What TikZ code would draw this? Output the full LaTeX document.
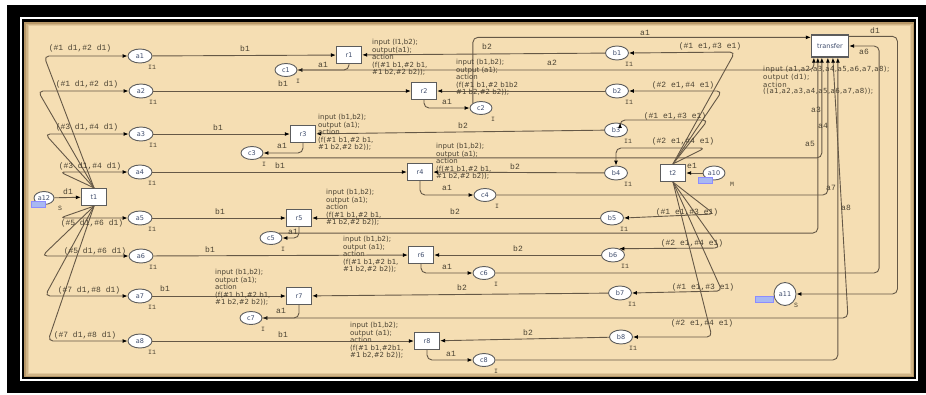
\documentclass[tikz,border=0pt]{standalone}
\usepackage{fontspec}
\setmainfont{DejaVu Sans}
\setmonofont{Liberation Mono}
\newfontfamily\wideface[LetterSpace=6]{DejaVu Sans}
\usetikzlibrary{shapes.geometric,arrows.meta,calc}
\definecolor{NetTan}{HTML}{F5DEB3}
\definecolor{NetEdge}{HTML}{B89868}
\definecolor{ArcLine}{HTML}{655846}
\definecolor{NodeLine}{HTML}{5C5C5C}
\definecolor{NodeText}{HTML}{3E4C6C}
\definecolor{InkText}{HTML}{4A4232}
\definecolor{TagBlue}{HTML}{A8B8F2}

\begin{document}
\begin{tikzpicture}[x=1pt,y=-1pt,
  every node/.style={font=\fontsize{6.5}{7}\selectfont},
  place/.style={ellipse,draw=NodeLine,line width=0.9pt,fill=white,minimum width=24pt,minimum height=14pt,inner sep=0pt,text=NodeText},
  trans/.style={rectangle,draw=NodeLine,line width=1.3pt,fill=white,minimum width=25pt,minimum height=17pt,inner sep=0pt,text=NodeText},
  arcline/.style={draw=ArcLine,line width=0.9pt,rounded corners=5pt,-{Latex[length=5pt,width=4pt,black]}},
  lbl/.style={font=\ttfamily\fontsize{8}{8}\selectfont,text=InkText,inner sep=0pt},
  tokens/.style={font=\ttfamily\fontsize{6.5}{7}\selectfont,text=InkText,inner sep=0pt},
  inscr/.style={align=left,anchor=north west,inner sep=0pt,font=\fontsize{7}{7.5}\selectfont,text=InkText},
  tag/.style={fill=TagBlue,draw=blue!45,line width=0.3pt,minimum width=14pt,minimum height=6pt,inner sep=0pt}]
  % frame and sheet
  \useasboundingbox (0,0) rectangle (926,394);
  \fill[white] (0,0) rectangle (926,394);
  \fill[black] (7,5) rectangle (926,393);
  \draw[white,line width=1.2pt] (21,18) rectangle (917,380);
  \fill[NetEdge] (24,22) rectangle (914,377);
  \fill[NetEdge!60!NetTan] (26,23.5) rectangle (912.5,375.5);
  \fill[NetEdge!30!NetTan] (27.5,25) rectangle (911,374);
  \fill[NetTan] (29,26) rectangle (910,372.5);

  % places
  \foreach \n/\x/\y in {a1/140/56,a2/141/91,a3/141/134,a4/140/172,a5/140/218,a6/141/256,a7/140/296,a8/140/341}{
    \node[place] (\n) at (\x,\y) {\n};
    \node[tokens] (\n-m) at (\x+12,\y+11) {I1};
  }
  \foreach \n/\x/\y in {b1/617/53,b2/617/91,b3/616/130,b4/616/173,b5/612/218,b6/613/255,b7/620/293,b8/621/337}{
    \node[place,minimum width=23pt] (\n) at (\x,\y) {\n};
    \node[tokens] (\n-m) at (\x+12,\y+11) {I1};
  }
  \foreach \n/\x/\y in {c1/286/70,c2/481/108,c3/252/153,c4/485/195,c5/271/238,c6/484/273,c7/251/318,c8/484/360}{
    \node[place,minimum width=22pt,minimum height=13pt] (\n) at (\x,\y) {\n};
    \node[tokens] (\n-m) at (\x+12,\y+11) {I};
  }
  \node[place,minimum width=20pt,minimum height=13pt] (a12) at (44,198) {a12};
  \node[tokens] (a12-m) at (60,208) {S};
  \node[place,minimum width=22pt] (a10) at (714,173) {a10};
  \node[tokens] (a10-m) at (732,184) {M};
  \node[place,minimum width=22pt,minimum height=23pt] (a11) at (785,294) {a11};
  \node[tokens] (a11-m) at (796,305) {S};
  \node[tag] (tag12) at (38,204) {};
  \node[tag] (tag10) at (705,180) {};
  \node[tag,minimum width=18pt] (tag11) at (764,299) {};

  % transitions
  \foreach \n/\x/\y in {r1/349/55,r2/424/91,r3/303/134,r4/420/172,r5/299/218,r6/421/255,r7/299/296,r8/427/341}
    \node[trans] (\n) at (\x,\y) {\n};
  \node[trans] (t1) at (94,197) {t1};
  \node[trans] (t2) at (673,173) {t2};
  \node[trans,minimum width=37pt,minimum height=22pt] (tf) at (830,46) {transfer};

  % arcs
  \draw[arcline] (a12) -- (t1);
  \draw[arcline] (a10) -- (t2);
  \foreach \n/\s/\cx/\cy in {a1/north/44/56,a2/north/38/91,a3/north/45/134,a4/north/60/172,a5/south/60/218,a6/south/42/256,a7/south/45/296,a8/south/48/341}
    \draw[arcline] (t1.\s) -- (\cx,\cy) -- (\n.west);
  \draw[arcline] (t2.north) -- (735,52) -- (b1.east);
  \draw[arcline] (t2.north) -- (722,91) -- (b2.east);
  \draw[arcline] (t2.north) -- (708,120) -| (b3.60);
  \draw[arcline] (t2.north) -- (705,148) -| (b4.north);
  \draw[arcline] (t2.south) -- (714,214) -- (b5.east);
  \draw[arcline] (t2.south) -- (720,248) -- (b6.45);
  \draw[arcline] (t2.south) -- (722,291) -- (b7.east);
  \draw[arcline] (t2.south) -- (712,337) -- (b8.east);
  \foreach \i/\s in {1/east,2/west,3/east,4/west,5/east,6/west,7/east,8/west}{
    \draw[arcline] (a\i) -- (r\i);
    \draw[arcline] (b\i) -- (r\i);
    \draw[arcline] (r\i.south) |- (c\i.\s);
  }
  \draw[arcline] (c1.east) -| ([xshift=3pt]tf.south west);
  \draw[arcline] (c2.north west) |- ([yshift=-3pt]tf.north west);
  \draw[arcline] (c3.south east) -| ([xshift=11pt]tf.south west);
  \draw[arcline] (c4.east) -| ([xshift=17pt]tf.south west);
  \draw[arcline] (c5.north east) -| ([xshift=7pt]tf.south west);
  \draw[arcline] (c6.east) -| ([xshift=30pt]tf.east) -- (tf.east);
  \draw[arcline] (c7.east) -- (848,318) -- ([xshift=22pt]tf.south west);
  \draw[arcline] (c8.east) -| ([xshift=27pt]tf.south west);
  \draw[arcline] ([yshift=-2pt]tf.north east) -| ([xshift=101pt]a11.east) -- (a11.east);

  % arc inscriptions
  \node[lbl] (l-a12) at (68,192) {d1};
  \node[lbl] (l-a10) at (692,166) {e1};
  \foreach \n/\t/\x/\y in {a1/{(\#1 d1,\#2 d1)}/80/48,a2/{(\#1 d1,\#2 d1)}/87/84,a3/{(\#3 d1,\#4 d1)}/87/127,a4/{(\#3 d1,\#4 d1)}/90/166,a5/{(\#5 d1,\#6 d1)}/92/223,a6/{(\#5 d1,\#6 d1)}/95/251,a7/{(\#7 d1,\#8 d1)}/89/290,a8/{(\#7 d1,\#8 d1)}/85/335}
    \node[lbl] (l-\n) at (\x,\y) {\t};
  \foreach \n/\t/\x/\y in {b1/{(\#1 e1,\#3 e1)}/710/46,b2/{(\#2 e1,\#4 e1)}/683/85,b3/{(\#1 e1,\#3 e1)}/675/116,b4/{(\#2 e1,\#4 e1)}/683/141,b5/{(\#1 e1,\#3 e1)}/687/212,b6/{(\#2 e1,\#4 e1)}/692/243,b7/{(\#1 e1,\#3 e1)}/703/287,b8/{(\#2 e1,\#4 e1)}/702/323}
    \node[lbl] (l-\n) at (\x,\y) {\t};
  \foreach \i/\x/\y in {1/245/49,2/283/84,3/218/128,4/280/166,5/220/212,6/210/250,7/165/289,8/283/335}
    \node[lbl] (lb1-\i) at (\x,\y) {b1};
  \foreach \i/\x/\y in {1/487/47,3/463/126,4/515/167,5/455/212,6/518/249,7/462/288,8/528/333}
    \node[lbl] (lb2-\i) at (\x,\y) {b2};
  \foreach \i/\x/\y in {1/323/65,2/447/102,3/282/146,4/447/188,5/293/232,6/447/267,7/281/311,8/451/354}
    \node[lbl] (lc-\i) at (\x,\y) {a1};
  \foreach \t/\x/\y in {a1/645/33,a2/552/63,a3/816/110,a4/823/126,a5/810/144,a6/864/52,a7/831/188,a8/846/208,d1/875/31}
    \node[lbl] (lt-\t) at (\x,\y) {\t};

  % transition code
  \node[inscr] (code-r1) at (372,39) {input (I1,b2);\\output(a1);\\action\\(f(\#1 b1,\#2 b1,\\\#1 b2,\#2 b2));};
  \node[inscr] (code-r2) at (456,59) {input (b1,b2);\\output (a1);\\action\\(f(\#1 b1,\#2 b1b2\\\#1 b2,\#2 b2));};
  \node[inscr] (code-r3) at (318,114) {input (b1,b2);\\output (a1);\\action\\(f(\#1 b1,\#2 b1,\\\#1 b2,\#2 b2));};
  \node[inscr] (code-r4) at (436,143) {input (b1,b2);\\output (a1);\\action\\(f(\#1 b1,\#2 b1,\\\#1 b2,\#2 b2));};
  \node[inscr] (code-r5) at (326,189) {input (b1,b2);\\output (a1);\\action\\(f(\#1 b1,\#2 b1,\\\#1 b2,\#2 b2));};
  \node[inscr] (code-r6) at (343,236) {input (b1,b2);\\output (a1);\\action\\(f(\#1 b1,\#2 b1,\\\#1 b2,\#2 b2));};
  \node[inscr] (code-r7) at (215,269) {input (b1,b2);\\output (a1);\\action\\(f(\#1 b1,\#2 b1,\\\#1 b2,\#2 b2));};
  \node[inscr] (code-r8) at (350,322) {input (b1,b2);\\output (a1);\\action\\(f(\#1 b1,\#2b1,\\\#1 b2,\#2 b2));};
  \node[inscr,font=\wideface\fontsize{7}{6.6}\selectfont] (code-tf) at (763,66) {input (a1,a2,a3,a4,a5,a6,a7,a8);\\output (d1);\\action\\((a1,a2,a3,a4,a5,a6,a7,a8));};
\end{tikzpicture}
\end{document}
